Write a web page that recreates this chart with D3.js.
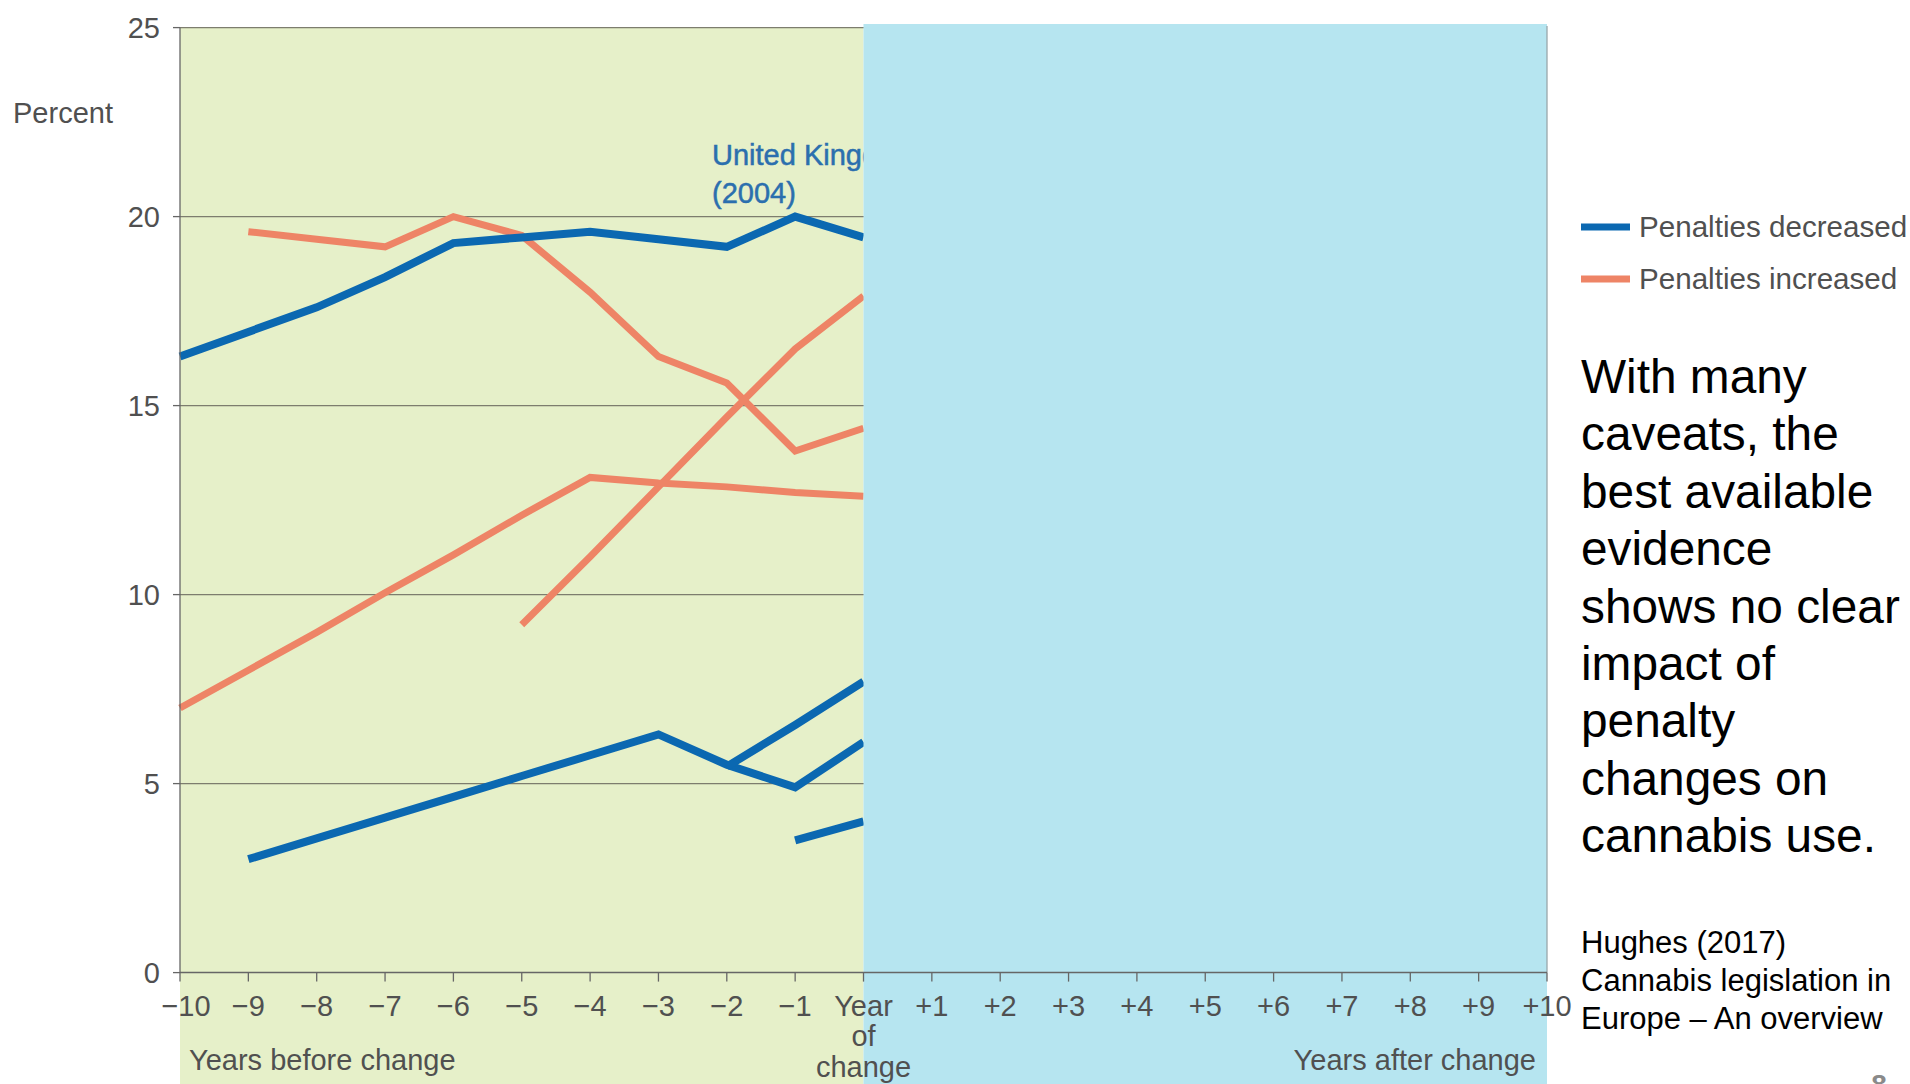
<!DOCTYPE html>
<html>
<head>
<meta charset="utf-8">
<style>
  body { margin: 0; background: #ffffff; }
  svg { display: block; font-family: "Liberation Sans", Arial, sans-serif; }
</style>
</head>
<body>
<svg width="1910" height="1084"></svg>
<script src="https://d3js.org/d3.v7.min.js"></script>
<script>
  // years relative to the change in penalties
  var years = [-10, -9, -8, -7, -6, -5, -4, -3, -2, -1, 0]
  var xTickLabels = ['\u221210', '\u22129', '\u22128', '\u22127', '\u22126', '\u22125', '\u22124', '\u22123', '\u22122', '\u22121',
    'Year', '+1', '+2', '+3', '+4', '+5', '+6', '+7', '+8', '+9', '+10']
  var yTicks = [0, 5, 10, 15, 20, 25]

  // penalties decreased (blue)
  var decreasedUK = [16.3, 16.95, 17.6, 18.4, 19.3, 19.45, 19.6, 19.4, 19.2, 20.0, 19.45]
  var decreasedB = [null, 3.0, 3.55, 4.1, 4.65, 5.2, 5.75, 6.3, 5.5, 4.9, 6.1]
  var decreasedC = [null, null, null, null, null, null, null, null, 5.45, 6.55, 7.7]
  var decreasedD = [null, null, null, null, null, null, null, null, null, 3.5, 4.0]

  // penalties increased (orange)
  var increasedA = [null, 19.6, 19.4, 19.2, 20.0, 19.5, 18.0, 16.3, 15.6, 13.8, 14.4]
  var increasedB = [null, null, null, null, null, 9.2, 11.0, 12.85, 14.7, 16.5, 17.9]
  var increasedC = [7.0, 8.0, 9.0, 10.05, 11.05, 12.1, 13.1, 12.95, 12.85, 12.7, 12.6]

  var legendLabels = ['Penalties decreased', 'Penalties increased']
  var messageLines = ['With many', 'caveats, the', 'best available', 'evidence', 'shows no clear',
    'impact of', 'penalty', 'changes on', 'cannabis use.']
  var sourceLines = ['Hughes (2017)', 'Cannabis legislation in', 'Europe \u2013 An overview']

  var blue = '#0b68b1'
  var orange = '#ee8466'
  var labelColor = '#505050'

  var svg = d3.select('svg')
  var x = d3.scaleLinear().domain([-10, 10]).range([180, 1547])
  var y = d3.scaleLinear().domain([0, 25]).range([972.6, 27.6])

  // green "before" background
  svg.append('rect')
    .attr('x', x(-10)).attr('y', y(25))
    .attr('width', x(0) - x(-10)).attr('height', 1084 - y(25))
    .attr('fill', '#e6f0c9')

  // gridlines
  svg.append('g').selectAll('line')
    .data(yTicks.filter(function(d) { return d > 0 }))
    .enter().append('line')
    .attr('x1', x(-10)).attr('x2', x(10))
    .attr('y1', function(d) { return y(d) }).attr('y2', function(d) { return y(d) })
    .attr('stroke', '#7d7d6e').attr('stroke-width', 1.3)

  // annotation (partly hidden by the after panel)
  var note = svg.append('text')
    .attr('fill', '#2b6fae').attr('font-size', 29)
    .attr('stroke', '#2b6fae').attr('stroke-width', 0.5)
  note.append('tspan').attr('x', 712).attr('y', 165).text('United Kingdom')
  note.append('tspan').attr('x', 712).attr('y', 203).text('(2004)')

  var line = d3.line()
    .defined(function(d) { return d != null })
    .x(function(d, i) { return x(years[i]) })
    .y(function(d) { return y(d) })

  var series = [
    { values: increasedA, color: orange, width: 7 },
    { values: increasedB, color: orange, width: 7 },
    { values: increasedC, color: orange, width: 7 },
    { values: decreasedUK, color: blue, width: 8 },
    { values: decreasedB, color: blue, width: 8 },
    { values: decreasedC, color: blue, width: 8 },
    { values: decreasedD, color: blue, width: 8 }
  ]

  svg.append('g').selectAll('path')
    .data(series)
    .enter().append('path')
    .attr('d', function(s) { return line(s.values) })
    .attr('fill', 'none')
    .attr('stroke', function(s) { return s.color })
    .attr('stroke-width', function(s) { return s.width })
    .attr('stroke-linejoin', 'miter')

  // blue "after" panel
  svg.append('rect')
    .attr('x', x(0)).attr('y', 24)
    .attr('width', x(10) - x(0)).attr('height', 1084 - 24)
    .attr('fill', '#b6e5f0')

  // right edge
  svg.append('line')
    .attr('x1', x(10)).attr('x2', x(10))
    .attr('y1', 26).attr('y2', y(0))
    .attr('stroke', '#9aa7ab').attr('stroke-width', 1.3)

  // y axis
  var yAxis = svg.append('g')
  yAxis.append('line')
    .attr('x1', x(-10)).attr('x2', x(-10)).attr('y1', y(25)).attr('y2', y(0))
    .attr('stroke', '#666').attr('stroke-width', 1.3)
  yAxis.selectAll('.tick')
    .data(yTicks)
    .enter().append('line')
    .attr('x1', x(-10) - 7).attr('x2', x(-10))
    .attr('y1', function(d) { return y(d) }).attr('y2', function(d) { return y(d) })
    .attr('stroke', '#666').attr('stroke-width', 1.3)
  yAxis.selectAll('text')
    .data(yTicks)
    .enter().append('text')
    .attr('x', 160).attr('y', function(d) { return y(d) + 10 })
    .attr('text-anchor', 'end')
    .attr('font-size', 29).attr('fill', labelColor)
    .text(function(d) { return d })

  svg.append('text')
    .attr('x', 13).attr('y', 123)
    .attr('font-size', 29).attr('fill', labelColor)
    .text('Percent')

  // x axis
  var xAxis = svg.append('g')
  xAxis.append('line')
    .attr('x1', x(-10)).attr('x2', x(10)).attr('y1', y(0)).attr('y2', y(0))
    .attr('stroke', '#666').attr('stroke-width', 1.5)
  xAxis.selectAll('.tick')
    .data(d3.range(-10, 11))
    .enter().append('line')
    .attr('x1', function(d) { return x(d) }).attr('x2', function(d) { return x(d) })
    .attr('y1', y(0)).attr('y2', y(0) + 9)
    .attr('stroke', '#666').attr('stroke-width', 1.3)
  xAxis.selectAll('text')
    .data(d3.range(-10, 11))
    .enter().append('text')
    .attr('x', function(d) { return x(d) + (d === -10 ? 6 : 0) })
    .attr('y', 1016)
    .attr('text-anchor', 'middle')
    .attr('font-size', 29).attr('fill', labelColor)
    .text(function(d, i) { return xTickLabels[i] })
  xAxis.append('text').attr('x', x(0)).attr('y', 1046)
    .attr('text-anchor', 'middle').attr('font-size', 29).attr('fill', labelColor).text('of')
  xAxis.append('text').attr('x', x(0)).attr('y', 1077)
    .attr('text-anchor', 'middle').attr('font-size', 29).attr('fill', labelColor).text('change')

  svg.append('text').attr('x', 189).attr('y', 1070)
    .attr('font-size', 29).attr('fill', labelColor).text('Years before change')
  svg.append('text').attr('x', 1536).attr('y', 1070).attr('text-anchor', 'end')
    .attr('font-size', 29).attr('fill', labelColor).text('Years after change')

  // legend
  var legend = svg.append('g').selectAll('g')
    .data(legendLabels)
    .enter().append('g')
    .attr('transform', function(d, i) { return 'translate(1581,' + (227 + i * 52) + ')' })
  legend.append('line')
    .attr('x1', 0).attr('x2', 49).attr('y1', 0).attr('y2', 0)
    .attr('stroke', function(d, i) { return i === 0 ? blue : orange })
    .attr('stroke-width', 7)
  legend.append('text')
    .attr('x', 58).attr('y', 10)
    .attr('font-size', 29.6).attr('fill', labelColor)
    .text(function(d) { return d })

  // message
  svg.append('g').selectAll('text')
    .data(messageLines)
    .enter().append('text')
    .attr('x', 1581).attr('y', function(d, i) { return 393 + i * 57.4 })
    .attr('font-size', 47.8).attr('fill', '#000')
    .text(function(d) { return d })

  svg.append('g').selectAll('text')
    .data(sourceLines)
    .enter().append('text')
    .attr('x', 1581).attr('y', function(d, i) { return 953 + i * 38 })
    .attr('font-size', 31).attr('fill', '#000')
    .text(function(d) { return d })

  // page number, cut by the bottom edge as in the slide
  svg.append('text').attr('x', 1879).attr('y', 1094).attr('text-anchor', 'middle')
    .attr('font-size', 28).attr('font-weight', 'bold').attr('fill', '#8a8a8a').text('8')
</script>
</body>
</html>
